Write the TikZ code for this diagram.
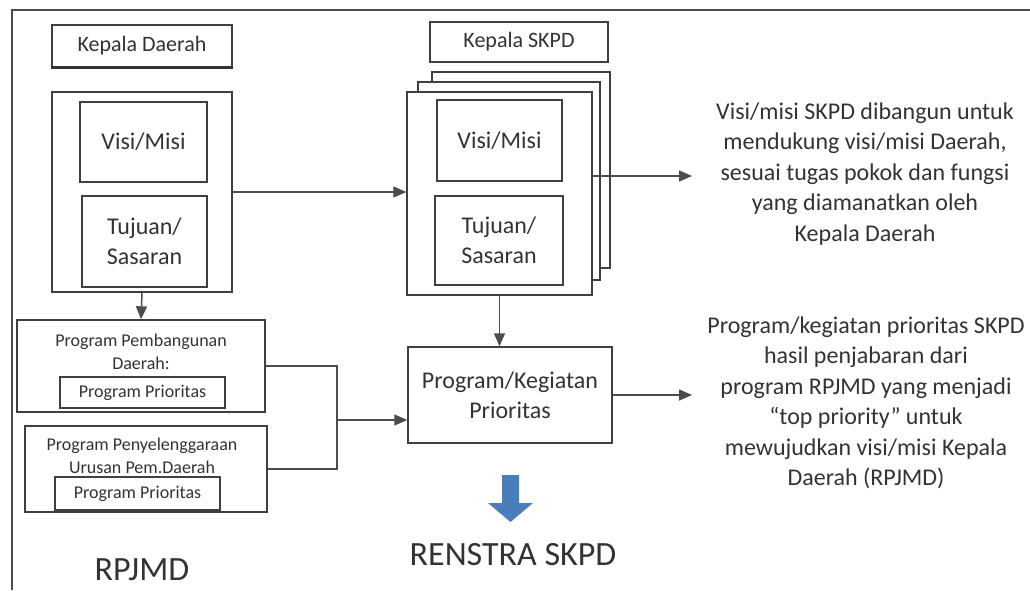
\documentclass[tikz,border=0pt]{standalone}
\usepackage{fontspec}
\setmainfont{Carlito}
\usetikzlibrary{arrows.meta}
\definecolor{arrowblue}{RGB}{74,126,187}

\begin{document}
\begin{tikzpicture}[x=1pt,y=-1pt,
  box/.style={draw=black!75,line width=1.4pt,fill=white,inner sep=0pt,align=center,text=black!80},
  txt/.style={text=black!80,align=center,inner sep=0pt},
  big/.style={font=\fontsize{24}{30}\selectfont},
  small/.style={font=\fontsize{18}{23}\selectfont},
  note/.style={txt,font=\fontsize{24}{30.5}\selectfont},
  huge/.style={txt,font=\fontsize{34}{40}\selectfont},
  link/.style={draw=black!70,line width=1.5pt},
  arr/.style={link,-{Triangle[length=13pt,width=11pt]}}]
  \useasboundingbox (0,0) rectangle (1030,590);
  \draw[link] (12,590) -- (12,10) -- (1030,10);
  % kepala daerah
  \node[box,font=\fontsize{22}{26}\selectfont,minimum width=180pt,minimum height=42pt] (kd) at (142,46) {Kepala Daerah};
  \draw[line width=3pt,black!80] (kd.south west) -- (kd.south east);
  \node[box,minimum width=180pt,minimum height=200pt] (kdbox) at (142,192) {};
  \node[box,big,minimum width=127pt,minimum height=80pt] (kdvisi) at (143.5,142) {Visi/Misi};
  \node[box,big,minimum width=125pt,minimum height=91pt] (kdtuj) at (144.5,241.5) {Tujuan/\\ Sasaran};
  % kepala skpd
  \node[box,font=\fontsize{22}{26}\selectfont,minimum width=178pt,minimum height=40pt] (ksk) at (519,42) {Kepala SKPD};
  \foreach \cx/\cy/\w/\h/\n in {521/170/178/196/sk3,509/181/182/198/sk2}
    \node[box,minimum width=\w pt,minimum height=\h pt] (\n) at (\cx,\cy) {};
  \node[box,minimum width=185pt,minimum height=203pt] (sk) at (499.5,193.5) {};
  \node[box,big,minimum width=125pt,minimum height=81pt] (skvisi) at (499.5,140.5) {Visi/Misi};
  \node[box,big,minimum width=128pt,minimum height=89pt] (sktuj) at (499,240.5) {Tujuan/\\ Sasaran};
  \node[box,big,minimum width=204pt,minimum height=96pt] (pk) at (510,395) {Program/Kegiatan\\Prioritas};
  % program rpjmd
  \node[box,minimum width=248pt,minimum height=92pt] (ppd) at (141,366) {};
  \node[txt,small] (ppdt) at (141,352) {Program Pembangunan\\Daerah:};
  \node[box,small,minimum width=165pt,minimum height=31pt] (ppdp) at (142.5,392.5) {Program Prioritas};
  \node[box,minimum width=242pt,minimum height=86pt] (pup) at (146,469) {};
  \node[txt,small] (pupt) at (142,456) {Program Penyelenggaraan\\Urusan Pem.Daerah};
  \node[box,small,minimum width=165pt,minimum height=33pt] (pupp) at (137.5,493.5) {Program Prioritas};
  % connectors
  \coordinate (out1) at (692,176);
  \coordinate (out2) at (692,395);
  \coordinate (jn) at (337,420);
  \draw[arr] (kdbox.south) -- (ppd.north);
  \draw[arr] (kdbox.east) -- (kdbox.east -| sk.west);
  \draw[arr] (sk.east |- out1) -- (out1);
  \draw[arr] (sk.south) -- (sk.south |- pk.north);
  \draw[arr] (pk.east) -- (out2);
  \draw[link] (ppd.east) -| (jn) |- (pup.east);
  \draw[arr] (jn) -- (jn -| pk.west);
  \fill[arrowblue] (502,475) -- (519,475) -- (519,503) -- (533,503) -- (510.5,522) -- (488,503) -- (502,503) -- cycle;
  % texts
  \node[note] (note1) at (865,174) {Visi/misi SKPD dibangun untuk\\mendukung visi/misi Daerah,\\sesuai tugas pokok dan fungsi\\yang diamanatkan oleh\\Kepala Daerah};
  \node[note] (note2) at (866,403) {Program/kegiatan prioritas SKPD\\hasil penjabaran dari\\program RPJMD yang menjadi\\``top priority'' untuk\\mewujudkan visi/misi Kepala\\Daerah (RPJMD)};
  \node[huge] (renstra) at (513,555) {RENSTRA SKPD};
  \node[huge] (rpjmd) at (142,570) {RPJMD};
\end{tikzpicture}
\end{document}
